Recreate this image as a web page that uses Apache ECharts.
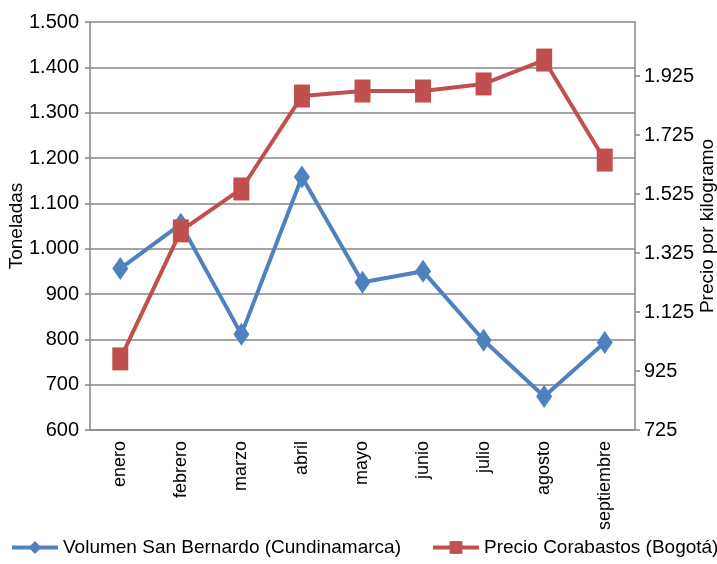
<!DOCTYPE html>
<html>
<head>
<meta charset="utf-8">
<script src="https://cdn.jsdelivr.net/npm/echarts@6/dist/echarts.min.js"></script>
<style>
  html, body { margin: 0; padding: 0; background: #fff; }
  #main { width: 717px; height: 564px; }
</style>
</head>
<body>
<div id="main"></div>
<script>
const months = ['enero', 'febrero', 'marzo', 'abril', 'mayo', 'junio', 'julio', 'agosto', 'septiembre']
// toneladas, eje izquierdo
const volumen = [956, 1054, 811, 1158, 926, 950, 798, 674, 793]
// precio por kilogramo, eje derecho
const precio = [966, 1400, 1542, 1857, 1874, 1874, 1898, 1979, 1640]
const seriesNames = ['Volumen San Bernardo (Cundinamarca)', 'Precio Corabastos (Bogotá)']

const FONT = 'Liberation Sans, Arial, sans-serif'
const AXIS_GRAY = '#868686'

// 1500 -> "1.500"
const miles = (v) => String(v).replace(/\B(?=(\d{3})+(?!\d))/g, '.')

const legendBase = {
  bottom: 2,
  itemWidth: 46,
  itemHeight: 16,
  lineStyle: { width: 4 },
  textStyle: { fontFamily: FONT, fontSize: 19, color: '#000' },
}

const chart = echarts.init(document.getElementById('main'))

chart.setOption({
  animation: false,
  textStyle: { fontFamily: FONT, color: '#000' },
  grid: { left: 90, right: 82, top: 22, bottom: 134, outerBoundsMode: 'none' },
  // two legends so the long entries stay on one row
  legend: [
    { ...legendBase, left: 5, data: [seriesNames[0]] },
    { ...legendBase, left: 426, data: [seriesNames[1]] },
  ],
  xAxis: {
    type: 'category',
    data: months,
    boundaryGap: true,
    axisLine: { lineStyle: { color: AXIS_GRAY, width: 1.5 } },
    axisTick: { length: 6, lineStyle: { color: AXIS_GRAY, width: 1.5 } },
    axisLabel: {
      rotate: 90,
      interval: 0,
      margin: 11,
      fontSize: 18,
      color: '#000',
      fontFamily: FONT,
    },
  },
  yAxis: [
    {
      type: 'value',
      min: 600,
      max: 1500,
      interval: 100,
      name: 'Toneladas',
      nameLocation: 'middle',
      nameGap: 64,
      nameRotate: 90,
      nameMoveOverlap: false,
      nameTextStyle: { fontSize: 19, color: '#000', fontFamily: FONT },
      axisLine: { show: true, lineStyle: { color: AXIS_GRAY, width: 1.5 } },
      axisTick: { show: true, length: 5, lineStyle: { color: AXIS_GRAY, width: 1.5 } },
      axisLabel: { fontSize: 20, color: '#000', fontFamily: FONT, margin: 11, formatter: miles },
      splitLine: { lineStyle: { color: AXIS_GRAY, width: 1.5 } },
    },
    {
      type: 'value',
      min: 725,
      max: 2108,
      interval: 200,
      position: 'right',
      name: 'Precio por kilogramo',
      nameLocation: 'middle',
      nameGap: 63,
      nameRotate: 90,
      nameMoveOverlap: false,
      nameTextStyle: { fontSize: 19, color: '#000', fontFamily: FONT },
      axisLine: { show: true, lineStyle: { color: AXIS_GRAY, width: 1.5 } },
      axisTick: { show: true, length: 5, lineStyle: { color: AXIS_GRAY, width: 1.5 } },
      axisLabel: {
        fontSize: 20,
        color: '#000',
        fontFamily: FONT,
        margin: 9,
        showMaxLabel: false,
        formatter: miles,
      },
      splitLine: { show: false },
    },
  ],
  series: [
    {
      name: seriesNames[0],
      type: 'line',
      yAxisIndex: 0,
      data: volumen,
      symbol: 'diamond',
      symbolSize: [16, 23],
      color: '#4F81BD',
      lineStyle: { width: 4, color: '#4F81BD' },
      itemStyle: { color: '#4F81BD' },
    },
    {
      name: seriesNames[1],
      type: 'line',
      yAxisIndex: 1,
      data: precio,
      symbol: 'rect',
      symbolSize: [16, 23],
      color: '#C0504D',
      lineStyle: { width: 4, color: '#C0504D' },
      itemStyle: { color: '#C0504D' },
    },
  ],
})
</script>
</body>
</html>
